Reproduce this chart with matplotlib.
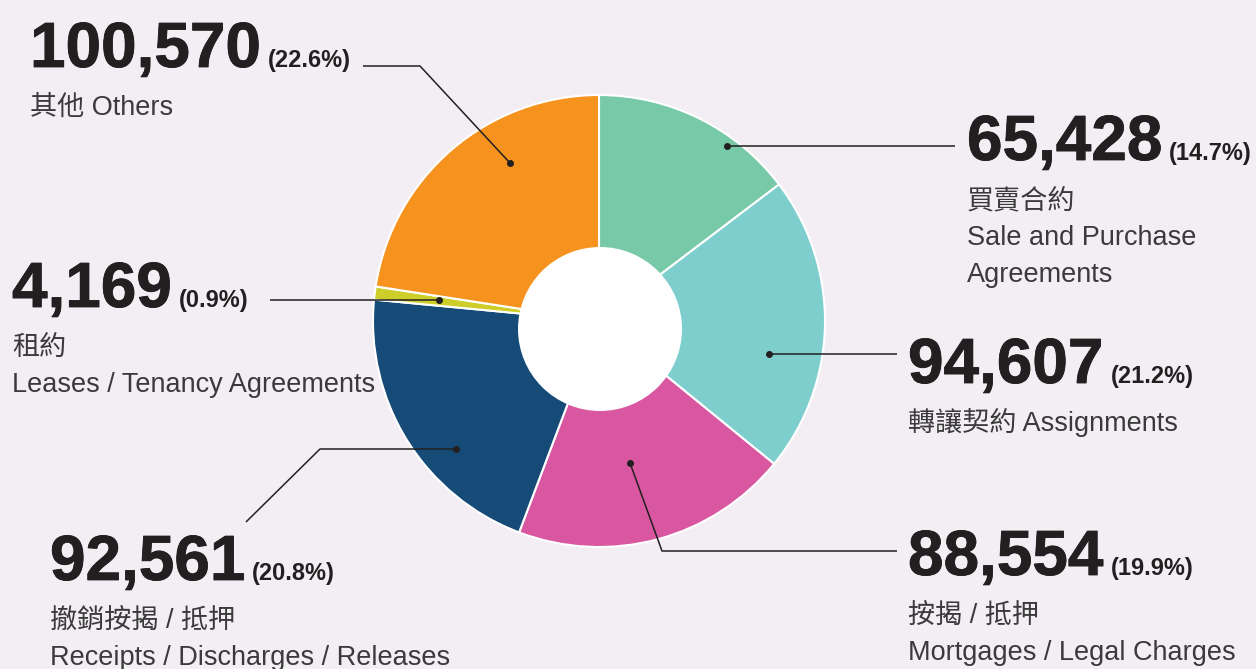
import matplotlib
matplotlib.use('Agg')
import matplotlib.pyplot as plt
import matplotlib.patheffects as pe
from matplotlib.patches import Circle

# datos
categorias_zh = ['買賣合約', '轉讓契約', '按揭 / 抵押', '撤銷按揭 / 抵押', '租約', '其他']
categorias_en = ['Sale and Purchase\nAgreements', 'Assignments', 'Mortgages / Legal Charges',
                 'Receipts / Discharges / Releases', 'Leases / Tenancy Agreements', 'Others']
valores = [65428, 94607, 88554, 92561, 4169, 100570]
colores = ['#78C9A8', '#7ECECE', '#D857A0', '#164B78', '#CDCE2A', '#F6921E']

total = sum(valores)
porcentajes = [v / total * 100 for v in valores]

W, H = 1256, 669
fondo = '#F3EEF4'
oscuro = '#231F20'
gris = '#3A3A3A'

plt.rcParams['font.family'] = ['Liberation Sans', 'Noto Sans CJK TC']

fig = plt.figure(figsize=(W / 100, H / 100), dpi=100, facecolor=fondo)
ax = fig.add_axes([0, 0, 1, 1])

# pie (coordenadas en pixeles, y hacia arriba)
cx, cy, R = 599, H - 321, 226
ax.pie(valores, colors=colores, startangle=90, counterclock=False,
       center=(cx, cy), radius=R, frame=True,
       wedgeprops=dict(edgecolor='white', linewidth=1.5))
ax.set_xlim(0, W)
ax.set_ylim(0, H)
ax.set_aspect('equal')
ax.axis('off')
ax.add_patch(Circle((600, H - 329), 82, facecolor='white', edgecolor='none', zorder=5))

# layout de etiquetas: punto, recorrido de la linea, posicion del texto
puntos = [(727, 146), (769, 354), (630, 463), (456, 449), (439, 300), (510, 163)]
lineas = [
    [(727, 146), (955, 146)],
    [(769, 354), (897, 354)],
    [(630, 463), (662, 551), (897, 551)],
    [(456, 449), (320, 449), (246, 522)],
    [(439, 300), (270, 300)],
    [(510, 163), (420, 66), (363, 66)],
]
texto_pos = [(967, 160), (908, 383), (908, 575), (50, 580), (12, 307), (30, 67)]

for p, ln in zip(puntos, lineas):
    xs = [q[0] for q in ln]
    ys = [H - q[1] for q in ln]
    ax.plot(xs, ys, color=oscuro, lw=1.1, zorder=6, solid_capstyle='butt')
    ax.plot(p[0], H - p[1], 'o', color=oscuro, ms=4, zorder=7)

grueso = [pe.withStroke(linewidth=0.6, foreground=oscuro)]
renderer = fig.canvas.get_renderer()
for i in range(len(valores)):
    x0, yb = texto_pos[i]
    t = ax.text(x0, H - yb, f'{valores[i]:,}', fontsize=46, fontweight='bold',
                color=oscuro, ha='left', va='baseline', path_effects=grueso)
    bb = t.get_window_extent(renderer)
    ax.text(bb.x1 + 7, H - yb, f'({porcentajes[i]:.1f}%)', fontsize=17,
            fontweight='bold', color=oscuro, ha='left', va='baseline')
    # lineas de la etiqueta
    if i in (1, 5):
        lineas_txt = [categorias_zh[i] + ' ' + categorias_en[i]]
    else:
        lineas_txt = [categorias_zh[i]] + categorias_en[i].split('\n')
    for k, s in enumerate(lineas_txt):
        ax.text(x0, H - (yb + 48 + 37 * k), s, fontsize=19.5, fontweight='light',
                color=gris, ha='left', va='baseline')

fig.savefig('out.png', dpi=100, facecolor=fondo)
